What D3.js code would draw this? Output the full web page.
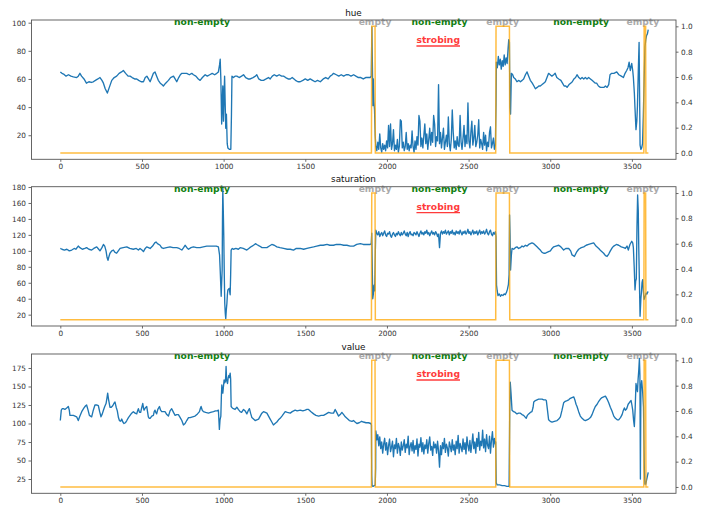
<!DOCTYPE html>
<html><head><meta charset="utf-8">
<script src="https://cdn.jsdelivr.net/npm/d3@7"></script>
<style>body{margin:0;background:#fff}svg{display:block}text{font-family:"DejaVu Sans",sans-serif}</style>
</head><body>
<script>
// ---------- DATA ----------
const xTicks = [0, 500, 1000, 1500, 2000, 2500, 3000, 3500];
const hueTicks = [20, 40, 60, 80, 100];
const satTicks = [20, 40, 60, 80, 100, 120, 140, 160, 180];
const valTicks = [25, 50, 75, 100, 125, 150, 175];
const stateTicks = [0, 0.2, 0.4, 0.6, 0.8, 1.0];
const titles = ["hue", "saturation", "value"];

// state (orange, right axis): frame, 0/1
const stateFrames = [0, 1905, 1907, 1927, 1929, 2666, 2668, 2750, 2752, 3573, 3575, 3584, 3586, 3601];
const stateValues = [0, 0, 1, 1, 0, 0, 1, 1, 0, 0, 1, 1, 0, 0];

// segment labels
const labelText = ["non-empty", "empty", "non-empty", "empty", "non-empty", "empty"];
const labelFrame = [868, 1927, 2322, 2708, 3189, 3567];
const labelKind = ["ne", "e", "ne", "e", "ne", "e"];
const strobeLabel = "strobing";
const strobeFrame = 2314;

// strobing section sampled every 6 frames
const strobeStart = 1932, strobeStep = 6;

// HUE
const hueHead = [[0,65],[10,64],[20,63.5],[35,62],[50,63],[65,62],[80,61.5],[100,61],[110,62],[120,64],[130,62],[145,60],[160,57],[175,58],[190,57.5],[202,58],[215,59],[230,60],[243,61],[255,59],[264,57],[275,53],[288,50],[300,54],[315,59],[330,61],[345,62],[360,64],[375,65],[386,66],[400,64],[415,62],[427,62],[440,61],[455,60],[468,60],[480,59],[495,58],[509,58],[520,61],[530,62],[540,60],[550,58],[560,61],[570,64],[580,65],[590,62],[600,59],[612,57],[622,56],[631,55],[645,57],[662,59],[675,61],[693,62],[703,60],[713,58],[725,61],[735,63],[744,64],[760,64],[774,64],[790,63],[805,64],[815,63],[830,62],[845,60],[856,59],[870,61],[887,63],[900,62],[915,63],[930,64],[945,63],[958,64],[968,65],[975,70],[979,74],[983,60],[988,28],[992,45],[995,55],[999,30],[1003,50],[1006,62],[1010,40],[1013,25],[1017,35],[1022,14],[1026,11],[1035,10],[1044,10],[1048,35],[1051,62],[1060,61],[1070,62],[1081,62],[1095,61],[1110,62],[1122,63],[1135,61],[1150,60],[1163,60],[1180,61],[1195,62],[1203,63],[1215,60],[1230,59],[1244,59],[1260,60],[1275,61],[1285,60],[1298,62],[1310,63],[1325,62],[1340,63],[1355,62],[1367,62],[1380,61],[1395,60],[1408,60],[1420,61],[1440,59],[1455,58],[1469,58],[1485,59],[1500,60],[1515,59],[1530,60],[1545,59],[1560,58],[1575,59],[1592,58],[1610,60],[1625,61],[1640,60],[1653,62],[1665,63],[1673,64],[1690,63],[1705,62],[1720,63],[1735,62],[1750,63],[1765,63],[1780,62],[1796,63],[1810,62],[1825,61],[1840,61],[1855,60],[1870,61],[1885,61],[1897,61],[1904,62],[1908,97],[1911,70],[1914,41],[1917,60],[1920,44],[1924,38],[1928,20]];
const hueStrobe = [12,9,15,10,21,11,8,14,10,13, 9,16,11,27,12,28,10,14,24,9, 13,10,17,8,12,31,30,11,15,9, 12,22,10,14,9,13,11,23,12,8, 16,10,19,13,34,30,12,18,11,20, 28,14,21,10,17,25,13,22,15,34, 28,12,19,16,56,14,22,11,18,25, 10,15,20,12,33,14,9,17,38,22, 11,16,10,19,13,12,34,15,10,18, 27,12,20,14,43,16,11,22,30,13, 18,27,12,15,20,31,11,17,14,10, 22,13,20,9,15,12,22,26,11,14, 18,10,13];
const hueTail = [[2668,42],[2670,72],[2676,68],[2682,76],[2688,70],[2694,74],[2700,67],[2706,73],[2712,69],[2718,77],[2724,70],[2730,75],[2736,71],[2742,82],[2746,88],[2750,86],[2753,40],[2757,35],[2762,64],[2770,63],[2776,61],[2786,60],[2796,58],[2808,59],[2817,58],[2828,59],[2837,60],[2848,63],[2858,65],[2868,62],[2878,59],[2890,57],[2900,55],[2909,53],[2920,54],[2930,55],[2939,55],[2950,56],[2960,57],[2970,58],[2980,61],[2990,64],[3000,63],[3010,62],[3021,63],[3030,64],[3040,61],[3052,60],[3065,59],[3075,57],[3085,55],[3095,55],[3103,54],[3115,56],[3125,57],[3135,58],[3145,60],[3155,61],[3164,63],[3175,61],[3185,60],[3195,61],[3205,60],[3215,61],[3225,60],[3235,61],[3246,60],[3256,59],[3266,58],[3276,57],[3284,57],[3295,55],[3307,54],[3318,54],[3328,54],[3338,55],[3348,54],[3358,56],[3366,63],[3376,64],[3390,64],[3407,65],[3420,63],[3435,62],[3448,61],[3458,64],[3468,66],[3476,68],[3483,72],[3490,66],[3499,71],[3505,66],[3509,61],[3515,50],[3519,39],[3525,24],[3530,30],[3534,41],[3539,65],[3544,86],[3547,50],[3550,13],[3555,10],[3560,11],[3565,14],[3570,34],[3575,60],[3580,83],[3585,88],[3590,91],[3595,92],[3600,95]];

// SATURATION
const satHead = [[0,103],[10,102],[25,101],[40,102],[55,100],[70,101],[85,103],[95,102],[110,106],[120,104],[135,102],[150,103],[161,104],[175,102],[192,101],[205,103],[223,105],[235,102],[243,100],[255,104],[264,108],[272,106],[280,100],[286,92],[292,88],[298,93],[304,97],[315,100],[325,101],[335,98],[345,97],[355,100],[366,103],[385,104],[407,105],[425,103],[447,102],[465,103],[478,101],[488,103],[500,101],[509,99],[520,103],[529,105],[540,104],[550,103],[565,106],[578,110],[586,111],[595,109],[611,107],[620,104],[631,103],[650,104],[672,105],[690,104],[713,104],[728,103],[744,101],[755,104],[764,107],[775,104],[785,102],[800,104],[815,105],[835,104],[856,104],[875,105],[897,106],[915,106],[938,106],[955,106],[968,105],[975,95],[979,76],[983,55],[985,43],[988,60],[991,76],[993,140],[995,178],[998,150],[1001,118],[1004,70],[1007,34],[1010,22],[1013,15],[1016,25],[1020,34],[1023,45],[1026,51],[1030,52],[1034,53],[1037,49],[1040,45],[1043,70],[1046,101],[1053,103],[1060,102],[1075,103],[1090,102],[1101,104],[1120,103],[1142,101],[1160,104],[1175,106],[1183,107],[1195,109],[1203,108],[1220,106],[1235,104],[1244,104],[1265,104],[1280,106],[1295,108],[1310,107],[1326,105],[1345,104],[1367,103],[1390,102],[1408,102],[1428,101],[1445,103],[1469,103],[1490,102],[1510,103],[1530,104],[1551,105],[1570,106],[1592,107],[1610,107],[1633,108],[1650,107],[1673,107],[1690,108],[1714,108],[1735,107],[1755,107],[1775,106],[1796,106],[1815,108],[1837,109],[1855,108],[1875,108],[1897,108],[1904,109],[1907,122],[1910,80],[1913,40],[1917,46],[1921,57],[1925,50],[1929,100]];
const satStrobe = [126,122,120,124,118,121,123,119,122,125, 120,118,122,121,124,119,117,121,123,120, 118,122,120,124,121,119,123,120,122,125, 121,119,123,118,122,124,120,121,119,123, 122,120,124,121,118,122,125,121,123,120, 124,122,126,121,123,119,122,125,121,123, 120,124,122,118,121,104,122,125,121,124, 122,126,121,123,125,120,124,122,126,121, 123,120,125,122,124,121,126,123,120,124, 122,125,121,123,127,122,124,120,123,126, 121,124,122,125,120,123,126,121,124,122, 125,121,123,127,122,120,124,126,121,119, 123,121,124];
const satTail = [[2668,118],[2671,57],[2675,50],[2680,44],[2688,46],[2695,43],[2702,45],[2710,44],[2718,46],[2725,45],[2732,48],[2738,52],[2744,58],[2748,70],[2751,145],[2754,120],[2757,76],[2762,95],[2766,103],[2776,102],[2786,104],[2796,105],[2806,103],[2817,104],[2827,106],[2837,105],[2848,107],[2858,106],[2868,108],[2878,109],[2888,110],[2899,109],[2909,107],[2919,105],[2929,103],[2939,101],[2950,98],[2960,97],[2970,97],[2980,98],[2990,99],[3001,100],[3011,103],[3021,105],[3035,106],[3052,107],[3065,105],[3082,101],[3095,103],[3113,103],[3125,100],[3133,95],[3141,94],[3148,93],[3160,98],[3174,102],[3190,104],[3205,105],[3220,107],[3235,108],[3250,109],[3266,110],[3280,106],[3297,103],[3310,100],[3327,97],[3338,94],[3348,93],[3358,96],[3368,100],[3380,104],[3389,106],[3405,108],[3419,107],[3435,105],[3450,104],[3460,103],[3470,106],[3478,101],[3488,108],[3499,112],[3505,110],[3509,104],[3514,80],[3519,51],[3523,62],[3527,65],[3531,130],[3535,170],[3539,150],[3542,104],[3546,60],[3550,18],[3555,40],[3558,47],[3562,60],[3566,64],[3570,50],[3574,39],[3580,42],[3587,47],[3592,46],[3596,48],[3600,49]];

// VALUE
const valHead = [[0,104],[6,118],[12,120],[18,120],[28,119],[39,121],[49,123],[55,118],[59,111],[70,111],[80,111],[90,110],[100,109],[110,104],[120,110],[131,116],[145,121],[155,124],[161,125],[170,118],[178,111],[185,110],[192,109],[202,118],[212,125],[222,125],[233,124],[241,116],[249,109],[257,113],[264,118],[272,123],[280,127],[286,135],[290,141],[295,133],[304,122],[312,122],[321,124],[328,127],[335,129],[342,122],[349,117],[356,108],[362,104],[370,103],[376,106],[383,102],[390,100],[398,101],[407,104],[417,108],[427,111],[437,114],[447,116],[458,114],[468,113],[473,117],[478,120],[485,115],[492,115],[498,121],[505,127],[510,120],[513,118],[520,121],[529,123],[534,116],[539,109],[545,107],[550,107],[560,110],[570,111],[575,116],[580,118],[585,115],[590,113],[597,119],[607,123],[614,118],[621,116],[631,116],[641,116],[652,112],[662,110],[672,117],[682,120],[693,115],[703,111],[713,112],[723,112],[734,108],[744,104],[749,101],[754,98],[764,100],[774,104],[785,108],[795,108],[810,109],[825,110],[840,113],[852,116],[857,120],[862,123],[869,118],[876,116],[890,115],[907,114],[920,115],[938,116],[950,117],[960,117],[968,118],[971,105],[974,92],[978,105],[983,110],[986,135],[989,152],[992,145],[995,141],[999,150],[1003,159],[1007,155],[1011,157],[1013,165],[1015,177],[1018,160],[1021,156],[1024,154],[1028,162],[1032,165],[1036,162],[1040,168],[1043,160],[1046,123],[1053,121],[1060,120],[1070,119],[1081,122],[1090,119],[1101,116],[1110,115],[1122,119],[1132,117],[1142,113],[1150,117],[1158,120],[1165,114],[1173,108],[1183,106],[1193,104],[1203,105],[1214,106],[1224,110],[1234,114],[1244,116],[1255,115],[1265,114],[1275,110],[1285,106],[1295,102],[1305,98],[1315,100],[1326,102],[1336,105],[1346,107],[1357,110],[1367,113],[1377,116],[1390,115],[1408,114],[1420,116],[1438,118],[1450,117],[1469,118],[1485,117],[1500,118],[1510,119],[1520,119],[1535,116],[1551,113],[1565,111],[1582,110],[1597,111],[1612,111],[1628,113],[1643,115],[1658,114],[1673,114],[1683,119],[1690,116],[1704,110],[1714,112],[1724,115],[1735,112],[1745,109],[1755,107],[1770,104],[1786,103],[1795,104],[1805,102],[1816,100],[1830,101],[1845,103],[1856,102],[1872,101],[1887,101],[1901,100],[1905,98],[1907,30],[1909,16],[1915,15],[1922,16],[1928,17],[1931,40]];
const valStrobe = [90,78,85,70,82,66,75,60,72,80, 64,74,58,70,79,62,68,76,55,71, 66,80,60,73,68,57,75,64,70,78, 61,72,67,83,58,69,74,63,77,60, 70,65,79,56,72,68,81,62,74,59, 71,66,78,60,73,82,64,69,57,75, 67,72,60,76,63,41,70,58,74,66, 80,61,72,67,56,75,69,62,78,64, 71,58,76,66,84,60,73,68,62,79, 65,74,59,82,70,63,77,61,72,86, 66,75,60,80,69,88,64,76,70,91, 67,79,62,85,71,66,83,60,77,89, 68,80,72];
const valTail = [[2666,75],[2669,20],[2675,17],[2690,17],[2705,16],[2720,16],[2735,15],[2748,15],[2752,120],[2755,156],[2760,140],[2766,118],[2776,116],[2786,115],[2796,113],[2806,114],[2817,114],[2827,112],[2837,111],[2845,109],[2853,107],[2860,111],[2868,113],[2878,115],[2888,116],[2895,122],[2899,129],[2909,131],[2919,132],[2929,133],[2939,133],[2950,133],[2960,132],[2970,132],[2976,131],[2983,118],[2990,105],[3000,103],[3011,102],[3025,103],[3042,104],[3052,106],[3062,109],[3072,118],[3082,128],[3092,130],[3103,131],[3113,132],[3123,134],[3133,135],[3144,136],[3152,131],[3158,126],[3164,123],[3174,116],[3184,110],[3195,107],[3205,105],[3215,104],[3225,105],[3235,106],[3246,108],[3256,112],[3266,118],[3276,123],[3287,126],[3297,130],[3307,133],[3317,135],[3327,136],[3338,137],[3348,133],[3358,128],[3368,122],[3378,117],[3389,110],[3399,107],[3410,105],[3419,105],[3430,108],[3440,112],[3448,118],[3454,121],[3460,118],[3468,120],[3477,126],[3487,129],[3495,131],[3500,125],[3505,118],[3510,105],[3515,96],[3520,120],[3525,154],[3530,148],[3534,143],[3538,160],[3542,172],[3546,188],[3549,165],[3552,25],[3555,148],[3560,158],[3566,142],[3571,122],[3576,40],[3580,18],[3585,18],[3590,24],[3595,29],[3600,34]];

// ---------- DRAW ----------
function build(head, strobe, tail) {
  const mid = strobe.map((v, i) => [strobeStart + i * strobeStep, v]);
  return head.concat(mid, tail);
}
const series = [build(hueHead, hueStrobe, hueTail), build(satHead, satStrobe, satTail), build(valHead, valStrobe, valTail)];
const leftTicks = [hueTicks, satTicks, valTicks];
const leftDomains = [[2.9, 101.9], [5.8, 180.4], [5.7, 193.9]];
const tops = [20, 186.7, 354];
const bottoms = [159.3, 326, 493.3];
const L = 31, R = 676;

const svg = d3.select("body").append("svg").attr("width", 709).attr("height", 508);
const x = d3.scaleLinear().domain([-179.5, 3770]).range([L, R]);
const state = stateFrames.map((f, i) => [f, stateValues[i]]);

function styleAxis(g) {
  g.select(".domain").remove();
  g.selectAll(".tick line").attr("stroke", "#444").attr("stroke-width", 0.8);
  g.selectAll(".tick text").attr("fill", "#333").style("font-size", "7.3px").style("font-family", "DejaVu Sans");
}

for (let p = 0; p < 3; p++) {
  const top = tops[p], bot = bottoms[p];
  const y = d3.scaleLinear().domain(leftDomains[p]).range([bot, top]);
  const y2 = d3.scaleLinear().domain([-0.05, 1.05]).range([bot, top]);
  const g = svg.append("g");
  const cid = "clip" + p;
  svg.append("clipPath").attr("id", cid).append("rect").attr("x", L).attr("y", top).attr("width", R - L).attr("height", bot - top);

  g.append("g").attr("transform", `translate(0,${bot})`)
    .call(d3.axisBottom(x).tickValues(xTicks).tickSize(2.5).tickPadding(2.5).tickFormat(d3.format("d"))).call(styleAxis);
  g.append("g").attr("transform", `translate(${L},0)`)
    .call(d3.axisLeft(y).tickValues(leftTicks[p]).tickSize(2.5).tickPadding(2.5).tickFormat(d3.format("d"))).call(styleAxis);
  g.append("g").attr("transform", `translate(${R},0)`)
    .call(d3.axisRight(y2).tickValues(stateTicks).tickSize(2.5).tickPadding(2.5).tickFormat(d3.format(".1f"))).call(styleAxis);

  // labels
  labelText.forEach((t, i) => {
    g.append("text").attr("x", x(labelFrame[i])).attr("y", top + 5).attr("text-anchor", "middle")
      .style("font-size", "9.2px").style("font-weight", "bold")
      .attr("fill", labelKind[i] === "ne" ? "#118011" : "#ababab").text(t);
  });
  const st = g.append("text").attr("x", x(strobeFrame)).attr("y", top + 23).attr("text-anchor", "middle")
    .style("font-size", "9.2px").style("font-weight", "bold").attr("fill", "#ff3b3b").text(strobeLabel);
  const bb = st.node().getBBox();
  g.append("line").attr("x1", bb.x).attr("x2", bb.x + bb.width).attr("y1", top + 26).attr("y2", top + 26)
    .attr("stroke", "#ff3b3b").attr("stroke-width", 1.3);

  const lines = g.append("g").attr("clip-path", `url(#${cid})`);
  lines.append("path").datum(series[p]).attr("fill", "none").attr("stroke", "#1f77b4").attr("stroke-width", 1.35)
    .attr("stroke-linejoin", "round")
    .attr("d", d3.line().x(d => x(d[0])).y(d => y(d[1])));
  lines.append("path").datum(state).attr("fill", "none").attr("stroke", "#ffa500").attr("stroke-opacity", 0.75)
    .attr("stroke-width", 1.5)
    .attr("d", d3.line().x(d => x(d[0])).y(d => y2(d[1])));

  g.append("rect").attr("x", L + 0.5).attr("y", top).attr("width", R - L - 0.5).attr("height", bot - top)
    .attr("fill", "none").attr("stroke", "#555").attr("stroke-width", 0.9);
  g.append("text").attr("x", (L + R) / 2).attr("y", top - 4.5).attr("text-anchor", "middle")
    .style("font-size", "8.8px").attr("fill", "#111").text(titles[p]);
}
</script>
</body></html>
